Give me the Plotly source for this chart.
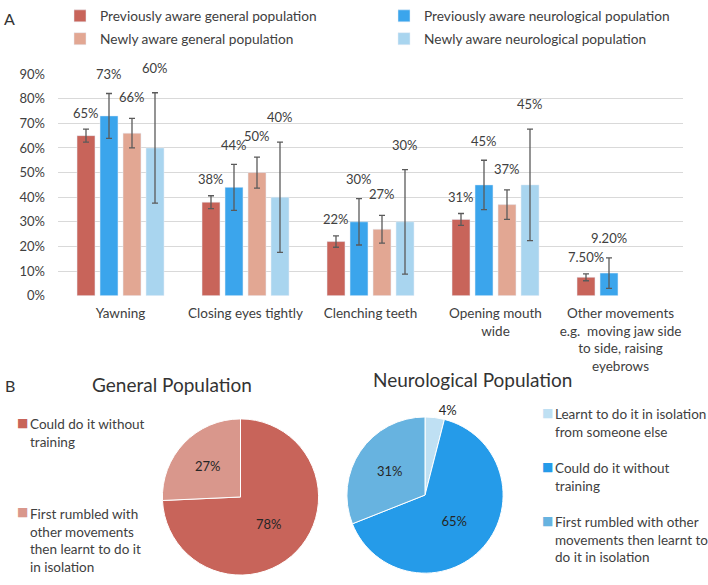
import plotly.graph_objects as go

W, H = 708, 585
FONT = "Lato, 'Open Sans', sans-serif"
TXT = "#404040"

# ---------------------------------------------------------------------
# Data - panel A (percent values)
# ---------------------------------------------------------------------
categories = [
    "Yawning",
    "Closing eyes tightly",
    "Clenching teeth",
    "Opening mouth<br>wide",
    "Other movements<br>e.g.\u00a0 moving jaw side<br>to side, raising<br>eyebrows",
]
series_names = [
    "Previously aware general population",
    "Previously aware neurological population",
    "Newly aware general population",
    "Newly aware neurological population",
]
series_colors = ["#c8645a", "#3ba5ec", "#e2a793", "#a9d5ef"]

prev_general = [65, 38, 22, 31, 7.5]
prev_neuro = [73, 44, 30, 45, 9.2]
new_general = [66, 50, 27, 37, None]
new_neuro = [60, 40, 30, 45, None]

prev_general_err = [2.6, 2.6, 2.3, 2.4, 1.4]
prev_neuro_err = [9.1, 9.3, 9.4, 10.0, 6.2]
new_general_err = [6.0, 6.3, 5.6, 6.0, None]
new_neuro_err = [22.4, 22.4, 21.2, 22.6, None]

prev_general_lbl = ["65%", "38%", "22%", "31%", "7.50%"]
prev_neuro_lbl = ["73%", "44%", "30%", "45%", "9.20%"]
new_general_lbl = ["66%", "50%", "27%", "37%", None]
new_neuro_lbl = ["60%", "40%", "30%", "45%", None]

# ---------------------------------------------------------------------
# Data - panel B (pies)
# ---------------------------------------------------------------------
gen_labels = ["Could do it without training",
              "First rumbled with other movements then learnt to do it in isolation"]
gen_values = [78, 27]
gen_text = ["78%", "27%"]
gen_colors = ["#c8645a", "#d9978c"]

neuro_labels = ["Learnt to do it in isolation from someone else",
                "Could do it without training",
                "First rumbled with other movements then learnt to do it in isolation"]
neuro_values = [4, 65, 31]
neuro_text = ["4%", "65%", "31%"]
neuro_colors = ["#bfe0f3", "#259be9", "#67b3e0"]


def px_x(x):
    return x / W


def px_y(y):
    return 1 - y / H


fig = go.Figure()

values = [prev_general, prev_neuro, new_general, new_neuro]
errors = [prev_general_err, prev_neuro_err, new_general_err, new_neuro_err]
labels = [prev_general_lbl, prev_neuro_lbl, new_general_lbl, new_neuro_lbl]

for i, name in enumerate(series_names):
    fig.add_trace(go.Bar(
        x=categories,
        y=[v / 100 if v is not None else None for v in values[i]],
        error_y=dict(type="data",
                     array=[e / 100 if e is not None else None for e in errors[i]],
                     color="#5a5a5a", thickness=1.3, width=3),
        name=name,
        marker_color=series_colors[i],
        legend="legend" if i % 2 == 0 else "legend2",
        legendgroup=name,
    ))

# bar chart geometry
X0, X1 = 58, 683
BARGAP, GROUPGAP = 0.264, 0.22
slot = (X1 - X0) / len(categories) * (1 - BARGAP) / 4
label_lift = [16.5, 19.5, 21, 25]

annotations = []
for i in range(4):
    for j, cat in enumerate(categories):
        if labels[i][j] is None:
            continue
        annotations.append(dict(
            x=cat, y=(values[i][j] + errors[i][j]) / 100,
            xref="x", yref="y", text=labels[i][j], showarrow=False,
            xshift=(i - 1.5) * slot, yshift=label_lift[i], yanchor="middle",
            font=dict(size=13, color=TXT),
        ))

# panel letters and pie titles
annotations += [
    dict(x=px_x(2), y=px_y(-6), xref="paper", yref="paper", text="A", showarrow=False,
         xanchor="left", yanchor="top", font=dict(size=16, color="#333")),
    dict(x=px_x(3), y=px_y(374), xref="paper", yref="paper", text="B", showarrow=False,
         xanchor="left", yanchor="top", font=dict(size=16, color="#333")),
    dict(x=px_x(172), y=px_y(385), xref="paper", yref="paper", text="General Population",
         showarrow=False, xanchor="center", font=dict(size=19, color="#333")),
    dict(x=px_x(472), y=px_y(380), xref="paper", yref="paper", text="Neurological Population",
         showarrow=False, xanchor="center", font=dict(size=19, color="#333")),
]

# pie legends drawn as text blocks
pie_legend = [
    (22, 425, gen_colors[0], "Could do it without<br>training"),
    (22, 518, gen_colors[1], "First rumbled with<br>other movements<br>then learnt to do it<br>in isolation"),
    (547, 415, neuro_colors[0], "Learnt to do it in isolation<br>from someone else"),
    (547, 471, neuro_colors[1], "Could do it without<br>training"),
    (547, 527, neuro_colors[2], "First rumbled with other<br>movements then learnt to<br>do it in isolation"),
]
for mx, my, col, txt in pie_legend:
    annotations.append(dict(x=px_x(mx), y=px_y(my), xref="paper", yref="paper", text="\u25a0",
                            showarrow=False, xanchor="center", yanchor="middle",
                            font=dict(size=12, color=col, family="DejaVu Sans")))
    annotations.append(dict(x=px_x(mx + 6), y=px_y(my - 9), xref="paper", yref="paper", text=txt,
                            showarrow=False, xanchor="left", yanchor="top", align="left",
                            font=dict(size=13.5, color=TXT)))

fig.add_trace(go.Pie(
    labels=gen_labels, values=gen_values, text=gen_text, textinfo="text",
    textposition="inside", sort=False, direction="clockwise", rotation=0,
    marker=dict(colors=gen_colors, line=dict(color="white", width=1)),
    insidetextfont=dict(size=13, color="#262626"), showlegend=False,
    domain=dict(x=[px_x(159.5), px_x(321.5)], y=[px_y(583), px_y(421)]),
    hoverinfo="label+text",
))
fig.add_trace(go.Pie(
    labels=neuro_labels, values=neuro_values, text=neuro_text, textinfo="text",
    textposition=["outside", "inside", "inside"], sort=False, direction="clockwise", rotation=0,
    marker=dict(colors=neuro_colors, line=dict(color="white", width=1)),
    insidetextfont=dict(size=13, color="#262626"), outsidetextfont=dict(size=13, color="#262626"),
    showlegend=False,
    domain=dict(x=[px_x(344), px_x(506)], y=[px_y(581), px_y(419)]),
    hoverinfo="label+text",
))

legend_style = dict(yanchor="top", xanchor="left", bgcolor="rgba(0,0,0,0)",
                    font=dict(size=13.7, color=TXT, family=FONT), tracegroupgap=2, itemwidth=30)

fig.update_layout(
    width=W, height=H,
    margin=dict(l=0, r=0, t=0, b=0),
    paper_bgcolor="white", plot_bgcolor="white",
    font=dict(family=FONT, color=TXT),
    barmode="group", bargap=BARGAP, bargroupgap=GROUPGAP,
    xaxis=dict(domain=[px_x(X0), px_x(X1)], showline=False, ticks="",
               tickfont=dict(size=13.5, color=TXT), ticklabelstandoff=8, fixedrange=True),
    yaxis=dict(domain=[px_y(293.3), px_y(63.3)], range=[0, 0.9], dtick=0.1, tickformat=".0%",
               gridcolor="#d9d9d9", zeroline=False, showline=False,
               tickfont=dict(size=13, color=TXT), ticklabelstandoff=12),
    legend=dict(x=px_x(60), y=px_y(-13), **legend_style),
    legend2=dict(x=px_x(384), y=px_y(-13), **legend_style),
    annotations=annotations,
)

fig.write_html("out.html", config={"displayModeBar": False},
               post_script="document.body.style.margin='0';document.body.style.overflow='hidden';")
